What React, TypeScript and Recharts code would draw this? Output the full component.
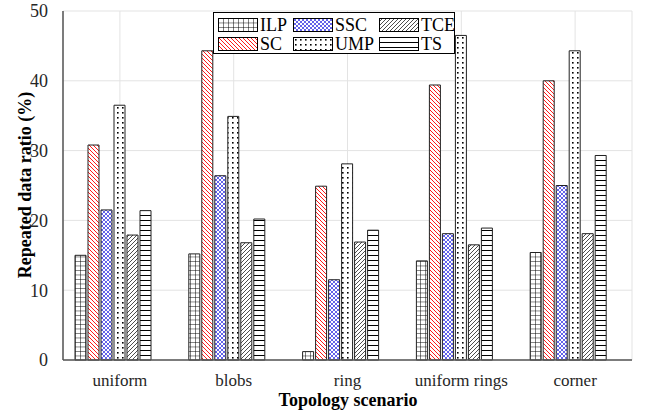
import { Bar, BarChart, CartesianGrid, Label, Legend, XAxis, YAxis } from 'recharts'

const scenarios = ['uniform', 'blobs', 'ring', 'uniform rings', 'corner']
const ilp = [15.0, 15.2, 1.2, 14.2, 15.4]
const sc = [30.8, 44.3, 24.9, 39.4, 40.0]
const ssc = [21.5, 26.4, 11.5, 18.1, 25.0]
const ump = [36.5, 34.9, 28.1, 46.5, 44.3]
const tce = [17.9, 16.8, 16.9, 16.5, 18.1]
const ts = [21.4, 20.2, 18.6, 18.9, 29.3]
const yTicks = [0, 10, 20, 30, 40, 50]

const series = [
  { key: 'ILP', values: ilp, pat: 'ilp' },
  { key: 'SC', values: sc, pat: 'sc' },
  { key: 'SSC', values: ssc, pat: 'ssc' },
  { key: 'UMP', values: ump, pat: 'ump' },
  { key: 'TCE', values: tce, pat: 'tce' },
  { key: 'TS', values: ts, pat: 'ts' },
]

const data = scenarios.map((name, i) => {
  const row: { [k: string]: string | number } = { name }
  series.forEach((s) => { row[s.key] = s.values[i] })
  return row
})

const font = '"Liberation Serif", "Times New Roman", serif'

// hatch patterns, prefix keeps ids unique per svg
const Patterns = ({ prefix }: { prefix: string }) => (
  <defs>
    <pattern id={prefix + 'ilp'} patternUnits="userSpaceOnUse" width={5} height={4.5}>
      <rect width={5} height={4.5} fill="#fff" />
      <path d="M0,0 L5,0 M0,0 L0,4.5" stroke="#000" strokeWidth={1} />
    </pattern>
    <pattern id={prefix + 'sc'} patternUnits="userSpaceOnUse" width={4} height={4}>
      <rect width={4} height={4} fill="#fff" />
      <path d="M0,0 L4,4 M-1,3 L1,5 M3,-1 L5,1" stroke="#ff1a1a" strokeWidth={1} />
    </pattern>
    <pattern id={prefix + 'ssc'} patternUnits="userSpaceOnUse" width={4} height={4}>
      <rect width={4} height={4} fill="#fff" />
      <path d="M0,0 L4,4 M-1,3 L1,5 M3,-1 L5,1 M0,4 L4,0 M-1,1 L1,-1 M3,5 L5,3" stroke="#2020e0" strokeWidth={0.7} />
    </pattern>
    <pattern id={prefix + 'ump'} patternUnits="userSpaceOnUse" width={5} height={5}>
      <rect width={5} height={5} fill="#fff" />
      <rect x={2} y={2} width={1.6} height={1.6} fill="#000" />
    </pattern>
    <pattern id={prefix + 'tce'} patternUnits="userSpaceOnUse" width={4} height={4}>
      <rect width={4} height={4} fill="#fff" />
      <path d="M0,4 L4,0 M-1,1 L1,-1 M3,5 L5,3" stroke="#000" strokeWidth={0.7} />
    </pattern>
    <pattern id={prefix + 'ts'} patternUnits="userSpaceOnUse" width={5} height={5}>
      <rect width={5} height={5} fill="#fff" />
      <path d="M0,0.5 L5,0.5" stroke="#000" strokeWidth={1} />
    </pattern>
  </defs>
)

// legend order as in the figure: 3 columns, 2 rows
const legendItems = [
  { key: 'ILP', left: 4, top: 5 },
  { key: 'SSC', left: 79, top: 5 },
  { key: 'TCE', left: 165, top: 5 },
  { key: 'SC', left: 4, top: 24 },
  { key: 'UMP', left: 79, top: 24 },
  { key: 'TS', left: 165, top: 24 },
]

const LegendBox = () => (
  <div style={{ position: 'relative', width: 242, height: 42, border: '1px solid #000', background: '#fff', boxSizing: 'border-box', fontFamily: font }}>
    {legendItems.map((it) => {
      const s = series.find((x) => x.key === it.key)!
      const pid = 'lg' + it.key.toLowerCase() + '_'
      return (
        <div key={it.key} style={{ position: 'absolute', left: it.left, top: it.top, display: 'flex', alignItems: 'center', height: 14 }}>
          <svg width={40} height={14} style={{ display: 'block' }}>
            <Patterns prefix={pid} />
            <rect x={0.5} y={0.5} width={39} height={13} fill={`url(#${pid}${s.pat})`} stroke="#000" strokeWidth={1} />
          </svg>
          <span style={{ fontSize: 18, lineHeight: '14px', marginLeft: 2, color: '#000' }}>{it.key}</span>
        </div>
      )
    })}
  </div>
)

const App = () => {
  return (
    <div style={{ position: 'absolute', left: 0, top: 0, background: '#fff' }}>
      <BarChart width={646} height={415} data={data} margin={{ top: 11, right: 14, bottom: 0, left: 0 }}
        barCategoryGap={12} barGap={2}>
        <Patterns prefix="p-" />
        <CartesianGrid stroke="#e3e3e3" strokeWidth={1} />
        <XAxis dataKey="name" height={55} interval={0} tickLine={false}
          axisLine={{ stroke: '#555', strokeWidth: 1.5 }}
          tick={{ fontFamily: font, fontSize: 17, fill: '#262626' }} tickMargin={8}>
          <Label content={() => (
            <text x={348} y={406} textAnchor="middle" fontFamily={font} fontSize={18} fontWeight="bold" fill="#000">Topology scenario</text>
          )} />
        </XAxis>
        <XAxis xAxisId="top" orientation="top" dataKey="name" height={0} tick={false} tickLine={false}
          axisLine={{ stroke: '#555', strokeWidth: 1.5 }} />
        <YAxis domain={[0, 50]} ticks={yTicks} width={63} tickLine={false}
          axisLine={{ stroke: '#555', strokeWidth: 1.5 }}
          tick={{ fontFamily: font, fontSize: 18, fill: '#262626' }} tickMargin={9}>
          <Label content={() => (
            <text x={25} y={185} transform="rotate(-90 25 185)" textAnchor="middle" dominantBaseline="central"
              fontFamily={font} fontSize={18} fontWeight="bold" fill="#000">Repeated data ratio (%)</text>
          )} />
        </YAxis>
        <YAxis yAxisId="right" orientation="right" domain={[0, 50]} width={0} tick={false} tickLine={false}
          axisLine={{ stroke: '#555', strokeWidth: 1.5 }} />
        <Legend layout="horizontal" verticalAlign="middle" align="center" content={() => <LegendBox />}
          wrapperStyle={{ position: 'absolute', left: 213, top: 12, width: 242, height: 42 }} />
        {series.map((s) => (
          <Bar key={s.key} dataKey={s.key} fill={`url(#p-${s.pat})`} stroke="#222" strokeWidth={1} isAnimationActive={false} />
        ))}
        {/* the original figure keeps an empty 7th slot in each group, so UMP sits on the tick */}
        <Bar dataKey="spacer" fill="none" stroke="none" isAnimationActive={false} />
      </BarChart>
    </div>
  )
}

export default App
